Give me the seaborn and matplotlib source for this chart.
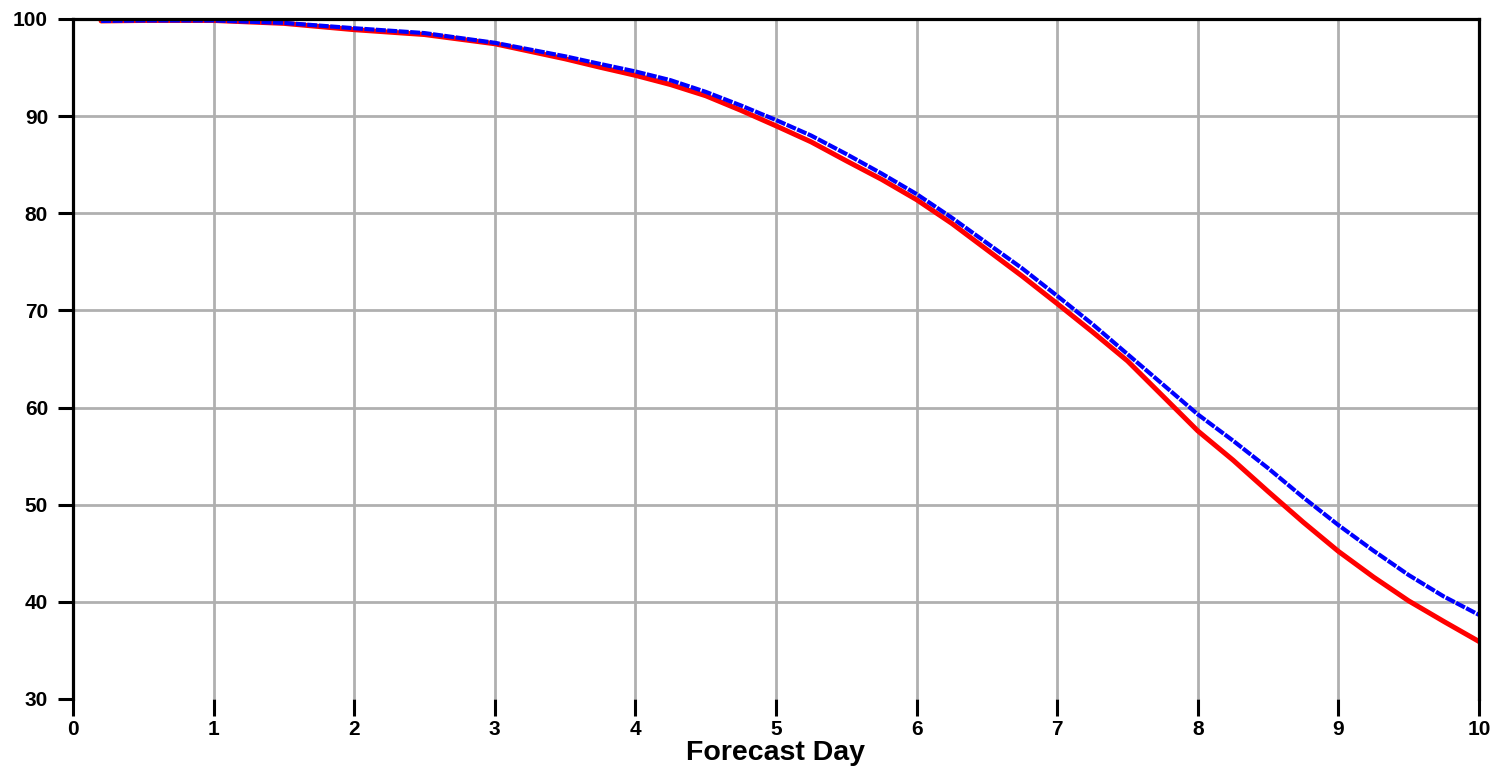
import matplotlib
matplotlib.use("Agg")
import matplotlib.pyplot as plt
import seaborn as sns
import pandas as pd

# Forecast skill (percent) against forecast lead time in days
days = [0.2, 0.5, 1.0, 1.5, 2.0, 2.5, 3.0, 3.5, 3.75, 4.0, 4.25, 4.5, 4.75,
        5.0, 5.25, 5.5, 5.75, 6.0, 6.25, 6.5, 6.75, 7.0, 7.25, 7.5, 7.75,
        8.0, 8.25, 8.5, 8.75, 9.0, 9.25, 9.5, 9.75, 10.0]
blue_series = [99.8, 99.85, 99.85, 99.6, 99.05, 98.55, 97.55, 96.16, 95.37, 94.6,
               93.7, 92.5, 91.1, 89.6, 88.0, 86.1, 84.1, 81.98, 79.55, 76.94,
               74.34, 71.5, 68.6, 65.5, 62.4, 59.3, 56.6, 53.76, 50.75, 47.9,
               45.26, 42.76, 40.55, 38.66]
red_series = [99.8, 99.85, 99.85, 99.55, 98.9, 98.4, 97.45, 95.9, 95.03, 94.2,
              93.25, 92.1, 90.6, 89.0, 87.35, 85.4, 83.5, 81.4, 78.96, 76.25,
              73.54, 70.7, 67.8, 64.8, 61.2, 57.6, 54.6, 51.36, 48.2, 45.2,
              42.55, 40.1, 37.98, 35.92]
x_ticks = [0, 1, 2, 3, 4, 5, 6, 7, 8, 9, 10]
y_ticks = [30, 40, 50, 60, 70, 80, 90, 100]
x_label = "Forecast Day"

df = pd.DataFrame({"day": days, "blue": blue_series, "red": red_series})

sns.set_theme(style="white")
plt.rcParams["font.family"] = ["Liberation Sans", "DejaVu Sans"]

fig = plt.figure(figsize=(15.03, 7.71), dpi=100)
ax = fig.add_axes([73 / 1503, 1 - 699 / 771, (1479 - 73) / 1503, (699 - 19) / 771])

sns.lineplot(data=df, x="day", y="red", ax=ax, color="#ff0000",
             linewidth=3.6, zorder=3)
sns.lineplot(data=df, x="day", y="blue", ax=ax, color="#0000ff",
             linewidth=3.0, zorder=4)
ax.lines[-1].set_dashes([2.4, 0.35])
ax.lines[-1].set_dash_capstyle("butt")

ax.set_xlim(0, 10)
ax.set_ylim(30, 100)
ax.set_xticks(x_ticks)
ax.set_yticks(y_ticks)
ax.set_xticklabels([str(t) for t in x_ticks], fontsize=15, fontweight="bold")
ax.set_yticklabels([str(t) for t in y_ticks], fontsize=15, fontweight="bold")

ax.grid(True, color="#b0b0b0", linewidth=2.0)
ax.set_axisbelow(True)
# no horizontal rule along the bottom edge
ax.yaxis.get_gridlines()[0].set_visible(False)

for side in ["left", "right", "top"]:
    ax.spines[side].set_visible(True)
    ax.spines[side].set_color("black")
    ax.spines[side].set_linewidth(2.3)
    ax.spines[side].set_zorder(5)
ax.spines["bottom"].set_visible(False)

ax.tick_params(axis="x", which="major", bottom=True, top=False, direction="out",
               length=12, width=2.2, color="black", pad=3, labelcolor="black")
ax.tick_params(axis="y", which="major", left=True, right=False, direction="out",
               length=11, width=2.2, color="black", pad=7, labelcolor="black")

ax.set_xlabel(x_label, fontsize=20.5, fontweight="bold", labelpad=1, color="black")
ax.set_ylabel("")

fig.savefig("out.png", dpi=100, facecolor="white")
